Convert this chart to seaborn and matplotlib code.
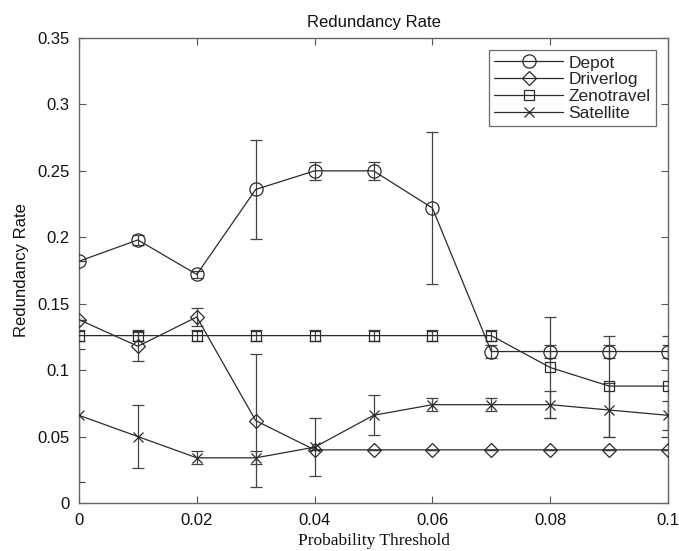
import matplotlib
matplotlib.use("Agg")
import matplotlib.pyplot as plt
import seaborn as sns
import numpy as np
import pandas as pd

thresholds = [0.0, 0.01, 0.02, 0.03, 0.04, 0.05, 0.06, 0.07, 0.08, 0.09, 0.1]

depot = [0.182, 0.198, 0.172, 0.236, 0.250, 0.250, 0.222, 0.114, 0.114, 0.114, 0.114]
depot_err = [0.0, 0.004, 0.003, 0.037, 0.007, 0.007, 0.057, 0.005, 0.005, 0.005, 0.005]

driverlog = [0.138, 0.118, 0.140, 0.062, 0.040, 0.040, 0.040, 0.040, 0.040, 0.040, 0.040]
driverlog_err = [0.0, 0.011, 0.007, 0.050, 0.0, 0.0, 0.0, 0.0, 0.0, 0.0, 0.0]

zenotravel = [0.126, 0.126, 0.126, 0.126, 0.126, 0.126, 0.126, 0.126, 0.102, 0.088, 0.088]
zenotravel_err = [0.004, 0.004, 0.004, 0.004, 0.004, 0.004, 0.004, 0.004, 0.038, 0.038, 0.038]

satellite = [0.066, 0.050, 0.034, 0.034, 0.042, 0.066, 0.074, 0.074, 0.074, 0.070, 0.066]
satellite_err = [0.050, 0.024, 0.005, 0.005, 0.022, 0.015, 0.005, 0.005, 0.010, 0.020, 0.011]

series_names = ["Depot", "Driverlog", "Zenotravel", "Satellite"]
values = [depot, driverlog, zenotravel, satellite]
errors = [depot_err, driverlog_err, zenotravel_err, satellite_err]
markers = ["o", "D", "s", "x"]
msizes = [9.5, 7.5, 7.5, 6.5]

sns.set_style("white")
plt.rcParams["font.family"] = ["Liberation Sans", "DejaVu Sans"]

fig = plt.figure(figsize=(6.79, 5.51), dpi=100)
ax = fig.add_axes([79/679, 48/551, (668-79)/679, (503-38)/551])

line_color = "#2b2b2b"
rows = []
for name, v in zip(series_names, values):
    for t, y in zip(thresholds, v):
        rows.append({"Threshold": t, "Rate": y, "Series": name})
df = pd.DataFrame(rows)

for name, v, e, m, ms in zip(series_names, values, errors, markers, msizes):
    sub = df[df["Series"] == name]
    ax.errorbar(thresholds, v, yerr=e, fmt="none", ecolor="#444444",
                elinewidth=0.9, capsize=4.5, capthick=0.9, zorder=2)
    sns.lineplot(data=sub, x="Threshold", y="Rate", ax=ax, color=line_color,
                 marker=m, markersize=ms, markerfacecolor="none",
                 markeredgecolor=line_color, markeredgewidth=0.9,
                 linewidth=0.9, label=name, zorder=3)

ax.set_xlim(0, 0.1)
ax.set_ylim(0, 0.35)
ax.set_xticks([0, 0.02, 0.04, 0.06, 0.08, 0.1])
ax.set_xticklabels(["0", "0.02", "0.04", "0.06", "0.08", "0.1"])
ax.set_yticks([0, 0.05, 0.1, 0.15, 0.2, 0.25, 0.3, 0.35])
ax.set_yticklabels(["0", "0.05", "0.1", "0.15", "0.2", "0.25", "0.3", "0.35"])
ax.tick_params(direction="in", length=5, width=0.8, color="#555555",
               labelsize=12, labelcolor="#111111", top=True, right=True,
               bottom=True, left=True, pad=7)
for s in ax.spines.values():
    s.set_color("#666666")
    s.set_linewidth(1.0)

ax.set_title("Redundancy Rate", fontsize=12, color="#111111", pad=8)
ax.set_xlabel("Probability Threshold", fontsize=12.5, family=["Liberation Serif", "DejaVu Serif"],
              color="#111111", labelpad=4)
ax.set_ylabel("Redundancy Rate", fontsize=12, color="#111111", labelpad=6)

leg = ax.legend(loc="upper right", fontsize=12.5, frameon=True, fancybox=False,
                edgecolor="#444444", handlelength=4.0, handletextpad=0.3,
                borderpad=0.3, labelspacing=0.1, borderaxespad=0.7)
leg.get_frame().set_linewidth(0.9)

fig.savefig("out.png", dpi=100)
